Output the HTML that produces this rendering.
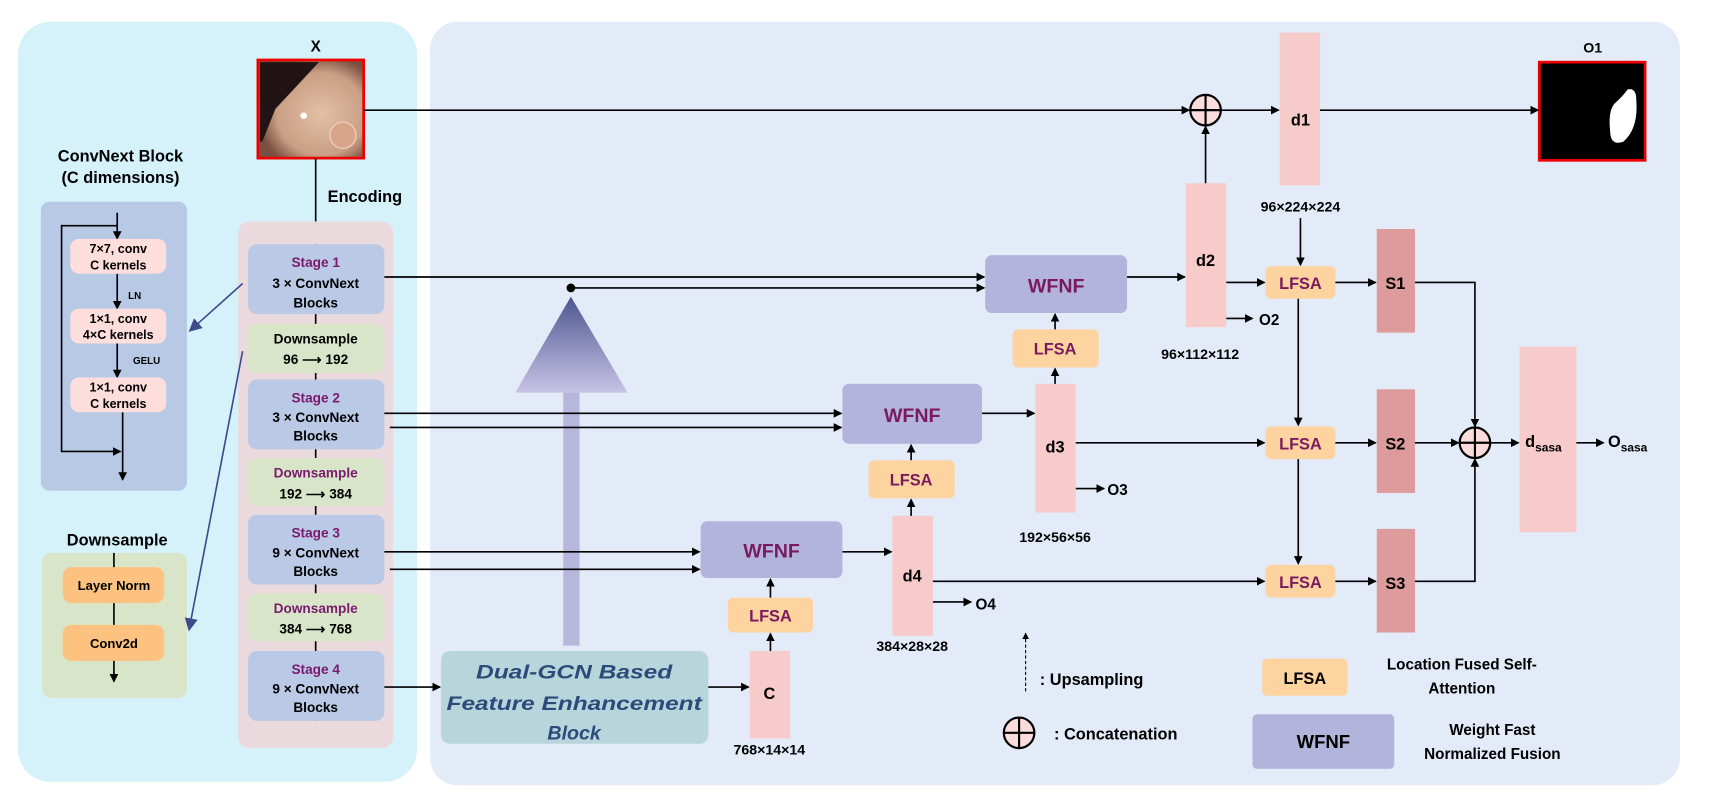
<!DOCTYPE html>
<html><head><meta charset="utf-8"><style>
html,body{margin:0;padding:0;background:#fff;}
svg{display:block;}
text{font-family:"Liberation Sans",sans-serif;font-weight:bold;}
</style></head><body>
<svg width="1711" height="807" viewBox="0 0 1568 740" xmlns="http://www.w3.org/2000/svg">
<defs>
<marker id="a" markerWidth="8" markerHeight="8" refX="7" refY="4" orient="auto" markerUnits="userSpaceOnUse"><path d="M0,0 L8,4 L0,8 z" fill="#000"/></marker>
<marker id="b" markerWidth="12" markerHeight="12" refX="10" refY="6" orient="auto" markerUnits="userSpaceOnUse"><path d="M0,0 L12,6 L0,12 z" fill="#3f4a8a"/></marker>
<linearGradient id="g" x1="0" y1="0" x2="0" y2="1"><stop offset="0" stop-color="#4d5690"/><stop offset="1" stop-color="#c8c3e6"/></linearGradient>
<radialGradient id="img" cx="0.6" cy="0.55" r="0.6"><stop offset="0" stop-color="#e2c0a6"/><stop offset="0.7" stop-color="#c99f85"/><stop offset="1" stop-color="#7a5040"/></radialGradient>
</defs>
<rect x="16" y="20" width="366" height="697" rx="30" fill="#d5f2fb"/>
<rect x="394" y="20" width="1146" height="700" rx="25" fill="#e3eaf8"/>

<text x="289" y="47" font-size="14" text-anchor="middle">X</text>
<rect x="236" y="55" width="97" height="90" fill="url(#img)" stroke="#e00" stroke-width="2.5"/>
<path d="M238,57 L292,57 L252,100 L240,130 L238,130 z" fill="#221414"/>
<ellipse cx="314" cy="124" rx="12" ry="12" fill="#d9a58a" stroke="#f2d6c6" stroke-width="1"/>
<circle cx="278" cy="106" r="3" fill="#fff"/>
<line x1="289" y1="145" x2="289" y2="224" stroke="#000" stroke-width="1.5"/>
<text x="300" y="185" font-size="15">Encoding</text>

<rect x="218" y="203" width="142" height="483" rx="10" fill="#ebdadd"/>
<line x1="289" y1="224" x2="289" y2="661" stroke="#000" stroke-width="1.5"/>
<g font-size="12.5" text-anchor="middle">
<rect x="227" y="224" width="125" height="64" rx="8" fill="#b9c9e6"/>
<text x="289" y="245" fill="#7a1a6e">Stage 1</text><text x="289" y="264" font-weight="normal">3 × ConvNext</text><text x="289" y="282" font-weight="normal">Blocks</text>
<rect x="227" y="297" width="125" height="45" rx="8" fill="#d9e5c8"/>
<text x="289" y="315">Downsample</text><text x="289" y="334" font-weight="normal">96 ⟶ 192</text>
<rect x="227" y="348" width="125" height="64" rx="8" fill="#b9c9e6"/>
<text x="289" y="369" fill="#7a1a6e">Stage 2</text><text x="289" y="387" font-weight="normal">3 × ConvNext</text><text x="289" y="404" font-weight="normal">Blocks</text>
<rect x="227" y="420" width="125" height="44" rx="8" fill="#d9e5c8"/>
<text x="289" y="438" fill="#7a1a6e">Downsample</text><text x="289" y="457" font-weight="normal">192 ⟶ 384</text>
<rect x="227" y="472" width="125" height="64" rx="8" fill="#b9c9e6"/>
<text x="289" y="493" fill="#7a1a6e">Stage 3</text><text x="289" y="511" font-weight="normal">9 × ConvNext</text><text x="289" y="528" font-weight="normal">Blocks</text>
<rect x="227" y="544" width="125" height="44" rx="8" fill="#d9e5c8"/>
<text x="289" y="562" fill="#7a1a6e">Downsample</text><text x="289" y="581" font-weight="normal">384 ⟶ 768</text>
<rect x="227" y="597" width="125" height="64" rx="8" fill="#b9c9e6"/>
<text x="289" y="618" fill="#7a1a6e">Stage 4</text><text x="289" y="636" font-weight="normal">9 × ConvNext</text><text x="289" y="653" font-weight="normal">Blocks</text>
</g>

<text x="110" y="148" font-size="15" text-anchor="middle">ConvNext Block</text>
<text x="110" y="168" font-size="15" text-anchor="middle">(C dimensions)</text>
<rect x="37" y="185" width="134" height="265" rx="8" fill="#b8c9e5"/>
<g stroke="#000" stroke-width="1.5" fill="none">
<line x1="107" y1="195" x2="107" y2="219" marker-end="url(#a)"/>
<polyline points="107,207 56,207 56,414 110,414" marker-end="url(#a)"/>
<line x1="107" y1="251" x2="107" y2="283" marker-end="url(#a)"/>
<line x1="107" y1="315" x2="107" y2="346" marker-end="url(#a)"/>
<line x1="112" y1="378" x2="112" y2="440" marker-end="url(#a)"/>
</g>
<g font-size="11.5" text-anchor="middle">
<rect x="64" y="219" width="88" height="32" rx="8" fill="#fddedd"/>
<text x="108" y="232" font-weight="normal">7×7, conv</text><text x="108" y="247" font-weight="normal">C kernels</text>
<rect x="64" y="283" width="88" height="32" rx="8" fill="#fddedd"/>
<text x="108" y="296" font-weight="normal">1×1, conv</text><text x="108" y="311" font-weight="normal">4×C kernels</text>
<rect x="64" y="346" width="88" height="32" rx="8" fill="#fddedd"/>
<text x="108" y="359" font-weight="normal">1×1, conv</text><text x="108" y="374" font-weight="normal">C kernels</text>
<text x="123" y="274" font-size="9">LN</text>
<text x="134" y="334" font-size="9">GELU</text>
</g>

<text x="107" y="500" font-size="15" text-anchor="middle">Downsample</text>
<rect x="38" y="507" width="133" height="133" rx="8" fill="#d9e5c8"/>
<line x1="104" y1="507" x2="104" y2="625" stroke="#000" stroke-width="1.5" marker-end="url(#a)"/>
<rect x="57" y="520" width="93" height="33" rx="8" fill="#fdc27f"/>
<text x="104" y="541" font-size="12" text-anchor="middle">Layer Norm</text>
<rect x="57" y="573" width="93" height="33" rx="8" fill="#fdc27f"/>
<text x="104" y="594" font-size="12" text-anchor="middle">Conv2d</text>

<line x1="222" y1="260" x2="174" y2="303" stroke="#3f4a8a" stroke-width="1.5" marker-end="url(#b)"/>
<line x1="222" y1="322" x2="173" y2="577" stroke="#3f4a8a" stroke-width="1.5" marker-end="url(#b)"/>

<polygon points="523,272 472,360 575,360" fill="url(#g)"/>
<rect x="516" y="360" width="15" height="232" fill="#b9b6dc"/>
<circle cx="523" cy="264" r="4" fill="#000"/>

<rect x="404" y="597" width="245" height="85" rx="8" fill="#b7d5da"/>
<g font-size="18" font-style="italic" text-anchor="middle" fill="#2c4a7a">
<text x="526" y="622" textLength="180" lengthAdjust="spacingAndGlyphs">Dual-GCN Based</text>
<text x="526" y="651" textLength="234" lengthAdjust="spacingAndGlyphs">Feature Enhancement</text>
<text x="526" y="678">Block</text>
</g>

<g fill="#f6cbca">
<rect x="687" y="597" width="37" height="80"/>
<rect x="818" y="473" width="37" height="110"/>
<rect x="949" y="352" width="37" height="118"/>
<rect x="1087" y="168" width="37" height="132"/>
<rect x="1173" y="30" width="37" height="140"/>
<rect x="1393" y="318" width="52" height="170"/>
</g>
<g fill="#dd9b9b">
<rect x="1262" y="210" width="35" height="95"/>
<rect x="1262" y="357" width="35" height="95"/>
<rect x="1262" y="485" width="35" height="95"/>
</g>
<g font-size="15" text-anchor="middle">
<text x="705" y="641">C</text><text x="836" y="533">d4</text><text x="967" y="415">d3</text>
<text x="1105" y="244">d2</text><text x="1192" y="115">d1</text>
<text x="1279" y="265">S1</text><text x="1279" y="412">S2</text><text x="1279" y="540">S3</text>
</g>
<text x="1398" y="410" font-size="15">d<tspan font-size="11" dy="4">sasa</tspan></text>
<text x="1474" y="410" font-size="15">O<tspan font-size="11" dy="4">sasa</tspan></text>
<g font-size="13" text-anchor="middle">
<text x="705" y="692" font-weight="normal">768×14×14</text>
<text x="836" y="597" font-weight="normal">384×28×28</text>
<text x="967" y="497" font-weight="normal">192×56×56</text>
<text x="1100" y="329" font-weight="normal">96×112×112</text>
<text x="1192" y="194" font-weight="normal">96×224×224</text>
</g>
<g font-size="14">
<text x="1154" y="298">O2</text><text x="1015" y="454">O3</text><text x="894" y="559">O4</text>
<text x="1460" y="48" text-anchor="middle" font-size="13">O1</text>
</g>

<g fill="#b3b4dc">
<rect x="903" y="234" width="130" height="53" rx="6"/>
<rect x="772" y="352" width="128" height="55" rx="6"/>
<rect x="642" y="478" width="130" height="52" rx="6"/>
</g>
<g font-size="18" text-anchor="middle" fill="#7a1a5e">
<text x="968" y="268">WFNF</text><text x="836" y="387">WFNF</text><text x="707" y="511">WFNF</text>
</g>
<g fill="#fdd3a0">
<rect x="928" y="302" width="79" height="35" rx="5"/>
<rect x="796" y="422" width="79" height="35" rx="5"/>
<rect x="667" y="548" width="78" height="32" rx="5"/>
<rect x="1160" y="244" width="64" height="30" rx="5"/>
<rect x="1160" y="391" width="64" height="30" rx="5"/>
<rect x="1160" y="518" width="64" height="30" rx="5"/>
</g>
<g font-size="15" text-anchor="middle" fill="#7a1a5e">
<text x="967" y="325">LFSA</text><text x="835" y="445">LFSA</text><text x="706" y="570">LFSA</text>
<text x="1192" y="265">LFSA</text><text x="1192" y="412">LFSA</text><text x="1192" y="539">LFSA</text>
</g>

<rect x="1411" y="57" width="97" height="90" fill="#000" stroke="#e00" stroke-width="2.5"/>
<path d="M1480,95 Q1488,88 1492,82 Q1500,80 1500,92 Q1502,118 1488,130 Q1476,134 1476,120 Q1474,102 1480,95 z" fill="#fff"/>

<g stroke="#000" stroke-width="2" fill="#fbdcdc">
<circle cx="1105" cy="101" r="14"/><line x1="1091" y1="101" x2="1119" y2="101"/><line x1="1105" y1="87" x2="1105" y2="115"/>
<circle cx="1352" cy="406" r="14"/><line x1="1338" y1="406" x2="1366" y2="406"/><line x1="1352" y1="392" x2="1352" y2="420"/>
<circle cx="934" cy="672" r="14"/><line x1="920" y1="672" x2="948" y2="672"/><line x1="934" y1="658" x2="934" y2="686"/>
</g>

<g stroke="#000" stroke-width="1.5" fill="none" marker-end="url(#a)">
<line x1="333" y1="101" x2="1090" y2="101"/>
<line x1="1119" y1="101" x2="1172" y2="101"/>
<line x1="1210" y1="101" x2="1410" y2="101"/>
<line x1="1105" y1="168" x2="1105" y2="116"/>
<line x1="352" y1="254" x2="902" y2="254"/>
<line x1="523" y1="264" x2="902" y2="264"/>
<line x1="1033" y1="254" x2="1086" y2="254"/>
<line x1="1124" y1="259" x2="1159" y2="259"/>
<line x1="1192" y1="200" x2="1192" y2="243"/>
<line x1="1224" y1="259" x2="1261" y2="259"/>
<line x1="1124" y1="292" x2="1148" y2="292"/>
<line x1="1190" y1="274" x2="1190" y2="390"/>
<line x1="1190" y1="421" x2="1190" y2="517"/>
<polyline points="1297,259 1352,259 1352,391"/>
<polyline points="1297,533 1352,533 1352,421"/>
<line x1="1297" y1="406" x2="1337" y2="406"/>
<line x1="1366" y1="406" x2="1392" y2="406"/>
<line x1="1445" y1="406" x2="1470" y2="406"/>
<line x1="1224" y1="406" x2="1261" y2="406"/>
<line x1="986" y1="406" x2="1159" y2="406"/>
<line x1="855" y1="533" x2="1159" y2="533"/>
<line x1="1224" y1="533" x2="1261" y2="533"/>
<line x1="352" y1="379" x2="771" y2="379"/>
<line x1="357" y1="392" x2="771" y2="392"/>
<line x1="352" y1="506" x2="641" y2="506"/>
<line x1="357" y1="522" x2="641" y2="522"/>
<line x1="900" y1="379" x2="948" y2="379"/>
<line x1="772" y1="506" x2="817" y2="506"/>
<line x1="967" y1="302" x2="967" y2="288"/>
<line x1="967" y1="352" x2="967" y2="338"/>
<line x1="835" y1="422" x2="835" y2="408"/>
<line x1="835" y1="473" x2="835" y2="458"/>
<line x1="706" y1="548" x2="706" y2="531"/>
<line x1="706" y1="597" x2="706" y2="581"/>
<line x1="352" y1="630" x2="403" y2="630"/>
<line x1="649" y1="630" x2="686" y2="630"/>
<line x1="986" y1="448" x2="1012" y2="448"/>
<line x1="855" y1="552" x2="890" y2="552"/>
</g>

<line x1="940" y1="634" x2="940" y2="584" stroke="#000" stroke-width="1" stroke-dasharray="3,2"/>
<path d="M937,586 L940,580 L943,586 z" fill="#000"/>
<text x="953" y="628" font-size="15" font-weight="normal">: Upsampling</text>
<text x="966" y="678" font-size="15" font-weight="normal">: Concatenation</text>
<rect x="1157" y="604" width="78" height="34" rx="4" fill="#fdd3a0"/>
<text x="1196" y="627" font-size="15" text-anchor="middle">LFSA</text>
<text x="1340" y="614" font-size="14" text-anchor="middle">Location Fused Self-</text>
<text x="1340" y="636" font-size="14" text-anchor="middle">Attention</text>
<rect x="1148" y="655" width="130" height="50" rx="4" fill="#b3b4dc"/>
<text x="1213" y="686" font-size="17" text-anchor="middle">WFNF</text>
<text x="1368" y="674" font-size="14" text-anchor="middle">Weight Fast</text>
<text x="1368" y="696" font-size="14" text-anchor="middle">Normalized Fusion</text>
</svg>
</body></html>
